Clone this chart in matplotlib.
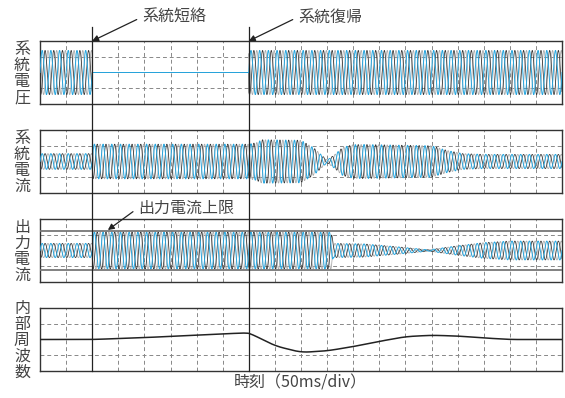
import numpy as np
import matplotlib
matplotlib.use("Agg")
import matplotlib.pyplot as plt
from matplotlib.transforms import blended_transform_factory

plt.rcParams['font.family'] = ['Noto Sans CJK JP', 'DejaVu Sans']

# time axis: 20 divisions of 50 ms
t_end = 1000.0
f_grid = 60.0           # Hz
t_short = 100.0         # 系統短絡
t_return = 400.0        # 系統復帰

# envelopes (amplitude in divisions) at time breakpoints (ms)
volt_t = [0, 100, 100, 400, 400, 1000]
volt_a = [1.4, 1.4, 0.0, 0.0, 1.4, 1.4]

grid_cur_t = [0, 100, 101, 400, 415, 425, 500, 525, 550, 565, 580, 600, 620, 750, 780, 810, 850, 1000]
grid_cur_a = [0.5, 0.5, 1.1, 1.1, 1.2, 1.38, 1.35, 0.85, 0.08, 0.45, 0.9, 1.07, 1.08, 1.0, 0.7, 0.5, 0.45, 0.45]

out_cur_t = [0, 100, 101, 558, 562, 620, 680, 745, 800, 850, 900, 1000]
out_cur_a = [0.45, 0.45, 1.18, 1.18, 0.45, 0.42, 0.25, 0.04, 0.3, 0.5, 0.6, 0.6]
out_limit = 1.25

freq_t = [0, 100, 200, 300, 400, 450, 500, 550, 600, 650, 700, 750, 800, 850, 900, 1000]
freq_v = [0, 0, 0.12, 0.28, 0.43, -0.4, -0.82, -0.72, -0.45, -0.12, 0.18, 0.27, 0.22, 0.1, 0.0, 0.0]

labels = ['系統電圧', '系統電流', '出力電流', '内部周波数']

W, H = 565, 398
fig = plt.figure(figsize=(W / 100, H / 100), dpi=100)
fig.patch.set_facecolor('white')

# panel rows in pixels (top, bottom)
rows = [(41, 104), (130, 193), (219, 282), (308, 371)]
x0, x1 = 40, 562

blue, dark, light = '#27a6df', '#333333', '#adadad'
t = np.linspace(0, t_end, 9000)
w = 2 * np.pi * f_grid * t / 1000.0


def three_phase(env_t, env_a):
    a = np.interp(t, env_t, env_a)
    return [a * np.sin(w + p) for p in (-2 * np.pi / 3, 0.0, 2 * np.pi / 3)]


axes = []
for (top, bot), lab in zip(rows, labels):
    ax = fig.add_axes([x0 / W, 1 - bot / H, (x1 - x0) / W, (bot - top) / H])
    ax.set_xlim(0, t_end)
    ax.set_ylim(-2, 2)
    ax.set_xticks([])
    ax.set_yticks([])
    for s in ax.spines.values():
        s.set_color('#333333')
        s.set_linewidth(1.0)
    for k in range(1, 20):
        ax.axvline(k * 50, color='#888888', lw=0.7, ls=(0, (4, 3)), zorder=1)
    for yv in (-1, 1):
        ax.axhline(yv, color='#888888', lw=0.7, ls=(0, (4, 3)), zorder=1)
    # stacked vertical label
    n = len(lab)
    yc = (top + bot) / 2 + 1
    for i, ch in enumerate(lab):
        yy = yc + (i - (n - 1) / 2) * 16.0
        fig.text(22 / W, 1 - yy / H, ch, ha='center', va='center',
                 fontsize=11.5, color='#444444')
    axes.append(ax)

ax1, ax2, ax3, ax4 = axes

for ax, (et, ea) in zip((ax1, ax2, ax3),
                        ((volt_t, volt_a), (grid_cur_t, grid_cur_a), (out_cur_t, out_cur_a))):
    ph = three_phase(et, ea)
    ax.plot(t, ph[2], color=light, lw=0.6, zorder=2)
    ax.plot(t, ph[0], color=dark, lw=0.55, zorder=3)
    ax.plot(t, ph[1], color=blue, lw=0.7, zorder=4)

for yv in (-out_limit, out_limit):
    ax3.axhline(yv, color='#777777', lw=1.3, zorder=5)

# frequency trace, smoothed with a short moving average
f_raw = np.interp(t, freq_t, freq_v)
k = 300
f_pad = np.concatenate([np.full(k, f_raw[0]), f_raw, np.full(k, f_raw[-1])])
f_s = np.convolve(f_pad, np.ones(k) / k, mode='same')[k:-k]
# keep the sharp corner at the return instant
f_s = np.where(np.abs(t - t_return) < 25, f_raw * 0.5 + f_s * 0.5, f_s)
ax4.plot(t, f_s, color='#222222', lw=1.1, zorder=3)

# event markers spanning all panels
tr = blended_transform_factory(ax1.transData, fig.transFigure)
for te in (t_short, t_return):
    fig.add_artist(plt.Line2D([te, te], [1 - 27 / H, 1 - rows[3][1] / H],
                              transform=tr, color='#222222', lw=0.9, zorder=10))

arrow = dict(arrowstyle='-|>', color='#222222', lw=0.9, mutation_scale=9,
             shrinkA=2, shrinkB=0, relpos=(0, 0.5))
ax1.annotate('系統短絡', xy=(t_short, 2), xycoords='data',
             xytext=(142, H - 17), textcoords='figure pixels',
             ha='left', va='center', fontsize=11.5, color='#444444',
             arrowprops=arrow, annotation_clip=False)
ax1.annotate('系統復帰', xy=(t_return, 2), xycoords='data',
             xytext=(298, H - 17), textcoords='figure pixels',
             ha='left', va='center', fontsize=11.5, color='#444444',
             arrowprops=arrow, annotation_clip=False)
ax3.annotate('出力電流上限', xy=(130, out_limit + 0.05), xycoords='data',
             xytext=(138, H - 208), textcoords='figure pixels',
             ha='left', va='center', fontsize=11.5, color='#444444',
             arrowprops=arrow, annotation_clip=False)

fig.text(300 / W, 1 - 383 / H, '時刻（50ms/div）', ha='center', va='center',
         fontsize=11.5, color='#444444')

fig.savefig('out.png', dpi=100)
